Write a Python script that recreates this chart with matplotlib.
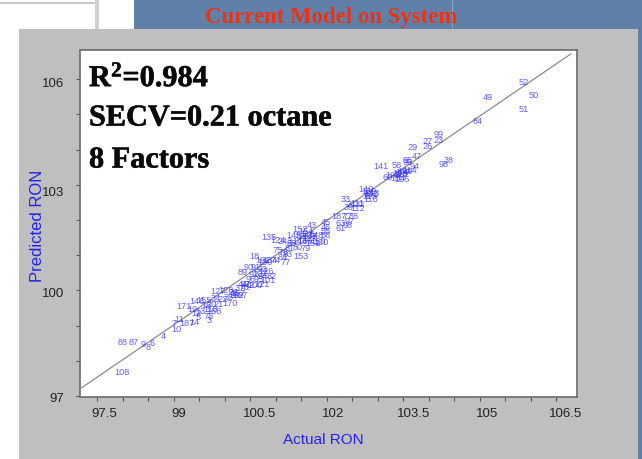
import matplotlib
matplotlib.use("Agg")
import matplotlib.pyplot as plt
from matplotlib.patches import Rectangle
from matplotlib.transforms import ScaledTranslation
from matplotlib.ticker import MultipleLocator, FixedLocator
import matplotlib.patheffects as pe

plt.rcParams["mathtext.fontset"] = "custom"
plt.rcParams["mathtext.rm"] = "Liberation Serif:bold"
plt.rcParams["mathtext.bf"] = "Liberation Serif:bold"
plt.rcParams["mathtext.default"] = "rm"

point_labels = ["108","88","87","9","8","6","4","10","7","11","187","14","171","19",
 "146","155","13","5","78","3","168","16","12","20","21","22","34","35","170","127","128","36","37","162","167","157","41","42","44",
 "89","90","91","92","93","126","82","94","95","96","97","121","100","101","102",
 "18","191","130","77","74","134","135","124","243","75","76","153","79","80","81","83","84","85","86","152","154","43","145","146","147","148","149","150","120","151","45","46","55","56",
 "187","77","38","63","61","97","98",
 "33","31","32","111","112","39","140","139","142","110","143",
 "141","58","60","103","104","105","106","95","96","94","47","29","27","26","23","99","98","38","84","49","52","50","51",
 "107","109","113","114","115","116","117","118"]
actual_ron = [97.99,97.99,98.21,98.40,98.50,98.58,98.79,99.05,99.01,99.11,99.25,99.40,99.21,99.36,
 99.46,99.60,99.52,99.48,99.68,99.70,99.79,99.64,99.44,99.75,99.87,99.95,99.83,100.07,100.11,99.87,100.03,100.17,100.30,100.23,100.30,100.26,100.42,100.50,100.36,
 100.36,100.46,100.60,100.56,100.74,100.81,100.93,100.74,100.66,100.50,100.42,100.74,100.60,100.85,100.70,
 100.58,100.74,100.78,101.19,100.99,100.89,100.87,101.05,101.19,101.03,101.15,101.50,101.58,101.44,101.28,101.23,101.13,101.32,101.48,101.48,101.60,101.70,101.36,101.48,101.68,101.79,101.58,101.83,101.89,101.74,101.99,101.99,101.99,101.99,
 102.25,102.41,102.53,102.28,102.28,102.46,102.41,
 102.38,102.50,102.65,102.61,102.61,102.44,102.77,102.83,102.87,102.87,102.89,
 103.07,103.38,103.19,103.30,103.40,103.48,103.44,103.58,103.58,103.72,103.77,103.68,103.97,103.97,104.19,104.19,104.29,104.39,104.97,105.17,105.87,106.07,105.87,
 103.50,103.54,103.46,103.62,102.85,101.62,101.66,99.72]
predicted_ron = [97.68,98.53,98.51,98.45,98.39,98.48,98.70,98.88,99.07,99.16,99.07,99.10,99.53,99.47,
 99.67,99.70,99.39,99.22,99.27,99.13,99.39,99.56,99.33,99.59,99.59,99.73,99.78,99.81,99.64,99.98,100.01,99.95,100.04,99.84,99.84,99.92,100.07,100.15,100.18,
 100.52,100.66,100.64,100.44,100.58,100.55,100.38,100.38,100.30,100.30,100.18,100.18,100.15,100.27,100.47,
 100.95,100.86,100.80,100.78,100.84,100.86,101.49,101.43,101.40,101.12,101.09,100.95,101.20,101.23,101.20,101.01,100.92,101.32,101.52,101.72,101.66,101.83,101.57,101.40,101.52,101.55,101.40,101.40,101.35,101.32,101.93,101.79,101.66,101.57,
 102.11,102.11,102.11,101.89,101.75,101.95,101.83,
 102.57,102.45,102.45,102.48,102.34,102.36,102.88,102.80,102.71,102.57,102.76,
 103.53,103.56,103.22,103.25,103.19,103.16,103.31,103.70,103.62,103.53,103.79,104.05,104.24,104.10,104.27,104.44,103.59,103.68,104.81,105.49,105.92,105.55,105.15,
 103.34,103.37,103.30,103.42,102.66,101.58,101.48,99.46]

fit_x = [97.19, 106.79]
fit_y = [97.23, 106.72]

x_major = [97.5, 99, 100.5, 102, 103.5, 105, 106.5]
x_major_labels = ["97.5", "99", "100.5", "102", "103.5", "105", "106.5"]
x_label_offsets_px = [7, 5, 9, 6, 10, 7, 9]
y_major = [97, 100, 103, 106]
y_major_labels = ["97", "100", "103", "106"]
y_label_offsets_px = [-2, -2, -7, -3]
stat_lines = ["R$^{2}$=0.984", "SECV=0.21 octane", "8 Factors"]

W, H = 642, 459
fig = plt.figure(figsize=(W / 100, H / 100), dpi=100, facecolor="white")

def px_rect(x0, y0, x1, y1, **kw):
    fig.add_artist(Rectangle((x0 / W, 1 - y1 / H), (x1 - x0) / W, (y1 - y0) / H,
                             transform=fig.transFigure, linewidth=0, zorder=-5, **kw))

# slide background behind the chart
px_rect(134, 0, 642, 30, facecolor="#5f81a9")
px_rect(638, 30, 642, 459, facecolor="#5f81a9")
px_rect(0, 2, 97, 4, facecolor="#c8c8c8")
px_rect(95, 0, 99, 30, facecolor="#d0d0d0")
px_rect(452, 0, 453, 30, facecolor="#8fa5c0")
px_rect(19, 29, 638, 459, facecolor="#bfbfbf")

fig.text(331 / W, 1 - 17 / H, "Current Model on System", color="#f03010", fontsize=16.4,
         fontweight="bold", family="Liberation Serif", ha="center", va="center")

ax = fig.add_axes([80.5 / W, 1 - 397 / H, (577 - 80.5) / W, (397 - 50) / H])
ax.set_facecolor("white")
ax.set_xlim(97.17, 106.91)
ax.set_ylim(96.97, 106.83)

ax.plot(fit_x, fit_y, color="#8a8a8a", linewidth=0.9, zorder=2)

for lab, xv, yv in zip(point_labels, actual_ron, predicted_ron):
    ax.text(xv, yv, lab, color="#2222ff", alpha=0.72, fontsize=6.6,
            family="Liberation Sans", ha="center", va="center", zorder=3)

for s in ax.spines.values():
    s.set_color("#6a6a6a")
    s.set_linewidth(1.2)

ax.xaxis.set_major_locator(FixedLocator(x_major))
ax.xaxis.set_minor_locator(MultipleLocator(0.5))
ax.yaxis.set_major_locator(FixedLocator(y_major))
ax.yaxis.set_minor_locator(MultipleLocator(1))
ax.set_xticklabels(x_major_labels)
ax.set_yticklabels(y_major_labels)
ax.tick_params(axis="both", which="both", direction="out", length=3, width=0.8, color="#555555")
ax.tick_params(axis="x", which="major", pad=5)
ax.tick_params(axis="y", which="major", pad=9)
for t in ax.get_xticklabels() + ax.get_yticklabels():
    t.set_fontfamily("Liberation Sans")
    t.set_fontsize(9.5)
    t.set_color("#222222")
for t, off in zip(ax.get_xticklabels(), x_label_offsets_px):
    t.set_transform(t.get_transform() + ScaledTranslation(off / 100, 0, fig.dpi_scale_trans))
for t, off in zip(ax.get_yticklabels(), y_label_offsets_px):
    t.set_transform(t.get_transform() + ScaledTranslation(0, off / 100, fig.dpi_scale_trans))

fig.text(323 / W, 1 - 440 / H, "Actual RON", color="#2222ee", fontsize=11,
         family="Liberation Sans", ha="center", va="center")
fig.text(37 / W, 1 - 226 / H, "Predicted RON", color="#2222ee", fontsize=12,
         family="Liberation Sans", rotation=90, ha="center", va="center")

for line, py in zip(stat_lines, [78, 118, 160]):
    fig.text(89 / W, 1 - py / H, line, color="#0a0a0a", fontsize=21.8, fontweight="bold",
             family="Liberation Serif", ha="left", va="center", zorder=10,
             path_effects=[pe.withStroke(linewidth=0.4, foreground="#0a0a0a")])

fig.savefig("out.png", dpi=100, facecolor="white")
